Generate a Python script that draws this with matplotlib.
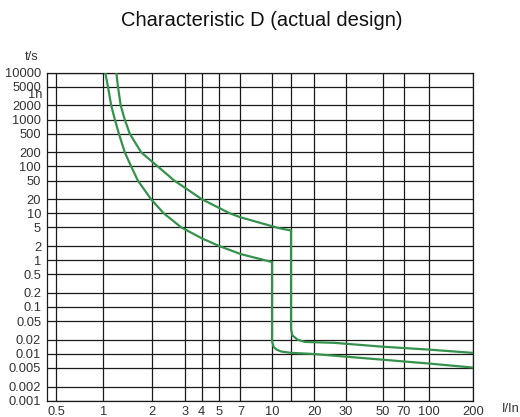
import numpy as np
import matplotlib
matplotlib.use("Agg")
import matplotlib.pyplot as plt

plt.rcParams['font.family'] = ['Liberation Sans', 'DejaVu Sans']

# ---- data ----
x_ticks = [0.5, 1, 2, 3, 4, 5, 7, 10, 20, 30, 50, 70, 100, 200]
x_tick_labels = ['0.5', '1', '2', '3', '4', '5', '7', '10', '20', '30', '50', '70', '100', '200']
x_extra_grid = [14]
y_ticks = [0.001, 0.002, 0.005, 0.01, 0.02, 0.05, 0.1, 0.2, 0.5, 1, 2, 5, 10,
           20, 50, 100, 200, 500, 1000, 2000, 5000, 10000]
y_tick_labels = ['0.001', '0.002', '0.005', '0.01', '0.02', '0.05', '0.1', '0.2',
                 '0.5', '1', '2', '5', '10', '20', '50', '100', '200', '500',
                 '1000', '2000', '5000', '10000']
hour_tick = 3600
hour_label = '1h'

# lower tripping curve (min)
lower_I = [1.029, 1.069, 1.12, 1.18, 1.25, 1.36, 1.49, 1.64, 1.98, 2.31,
           2.85, 4.0, 5.0, 7.0, 10.0,
           10.0, 10.27, 10.86, 11.8, 14.0, 20, 50, 100, 200]
lower_t = [10000, 5000, 2000, 1000, 500, 200, 100, 50, 20, 10,
           5.0, 2.92, 2.0, 1.35, 0.91,
           0.019, 0.0141, 0.0123, 0.0112, 0.0105, 0.0099, 0.0075, 0.0062, 0.0051]

# upper tripping curve (max)
upper_I = [1.205, 1.234, 1.283, 1.36, 1.46, 1.72, 2.15, 2.62, 4.0, 5.9, 7.0,
           10.0, 11.5, 14.0,
           14.0, 14.3, 15.5, 17.3, 20, 25.8, 50, 100, 200]
upper_t = [10000, 5000, 2000, 1000, 500, 200, 100, 50, 20, 10, 8.2,
           5.3, 4.76, 4.3,
           0.034, 0.0247, 0.020, 0.018, 0.0177, 0.0172, 0.0142, 0.0123, 0.0105]

# ---- custom (slightly irregular) logarithmic x scale of the printed grid ----
_scale_vals = np.log10([1e-6, 0.436, 0.5, 1, 2, 3, 4, 5, 7, 10, 14, 20, 30, 50, 70, 100, 200, 1e6])
_scale_pos = np.array([46.7 - (np.log10(0.436) + 6) * 157, 46.7, 56, 103.3, 151.7, 185.5, 201.8,
                       219.2, 240.5, 272, 291.0, 314.2, 345.8, 382.7, 404, 429.3, 472.7,
                       472.7 + (6 - np.log10(200)) * 144])


def fwd(x):
    x = np.asarray(x, dtype=float)
    lx = np.log10(np.clip(x, 1e-6, 1e6))
    return np.interp(lx, _scale_vals, _scale_pos)


def inv(p):
    p = np.asarray(p, dtype=float)
    return 10 ** np.interp(p, _scale_pos, _scale_vals)


W, H = 520, 417
fig = plt.figure(figsize=(W / 100, H / 100), dpi=100)
ax = fig.add_axes([46.7 / W, 1 - 400.7 / H, (472.7 - 46.7) / W, (400.7 - 72.7) / H])

ax.set_xscale('function', functions=(fwd, inv))
ax.set_yscale('log')
ax.set_xlim(0.436, 200)
ax.set_ylim(0.001, 10000)

# grid
grid_kw = dict(color='#1a1a1a', lw=0.9, zorder=1)
for xv in x_ticks + x_extra_grid:
    ax.axvline(xv, **grid_kw)
for yv in y_ticks:
    ax.axhline(yv, **grid_kw)

green = '#35924c'
ax.plot(lower_I, lower_t, color=green, lw=1.6, zorder=3, solid_joinstyle='round')
ax.plot(upper_I, upper_t, color=green, lw=1.6, zorder=3, solid_joinstyle='round')

ax.set_xticks(x_ticks, x_tick_labels)
ax.set_xticks([], minor=True)
ax.set_yticks(y_ticks, y_tick_labels)
ax.set_yticks([hour_tick], [hour_label], minor=True)
ax.tick_params(axis='both', which='both', length=0, labelsize=9.3, labelcolor='#333333')
ax.tick_params(axis='x', pad=4)
ax.tick_params(axis='y', pad=4)
for s in ax.spines.values():
    s.set_color('#1a1a1a')
    s.set_linewidth(0.9)

fig.text(262 / W, 1 - 20 / H, 'Characteristic D (actual design)', ha='center', va='center',
         fontsize=14.5, color='#111111')
fig.text(32 / W, 1 - 57 / H, 't/s', ha='center', va='center', fontsize=9.3, color='#333333')
fig.text(502 / W, 1 - 409 / H, 'I/In', ha='left', va='center', fontsize=9.3, color='#333333')

fig.savefig('out.png', dpi=100)
